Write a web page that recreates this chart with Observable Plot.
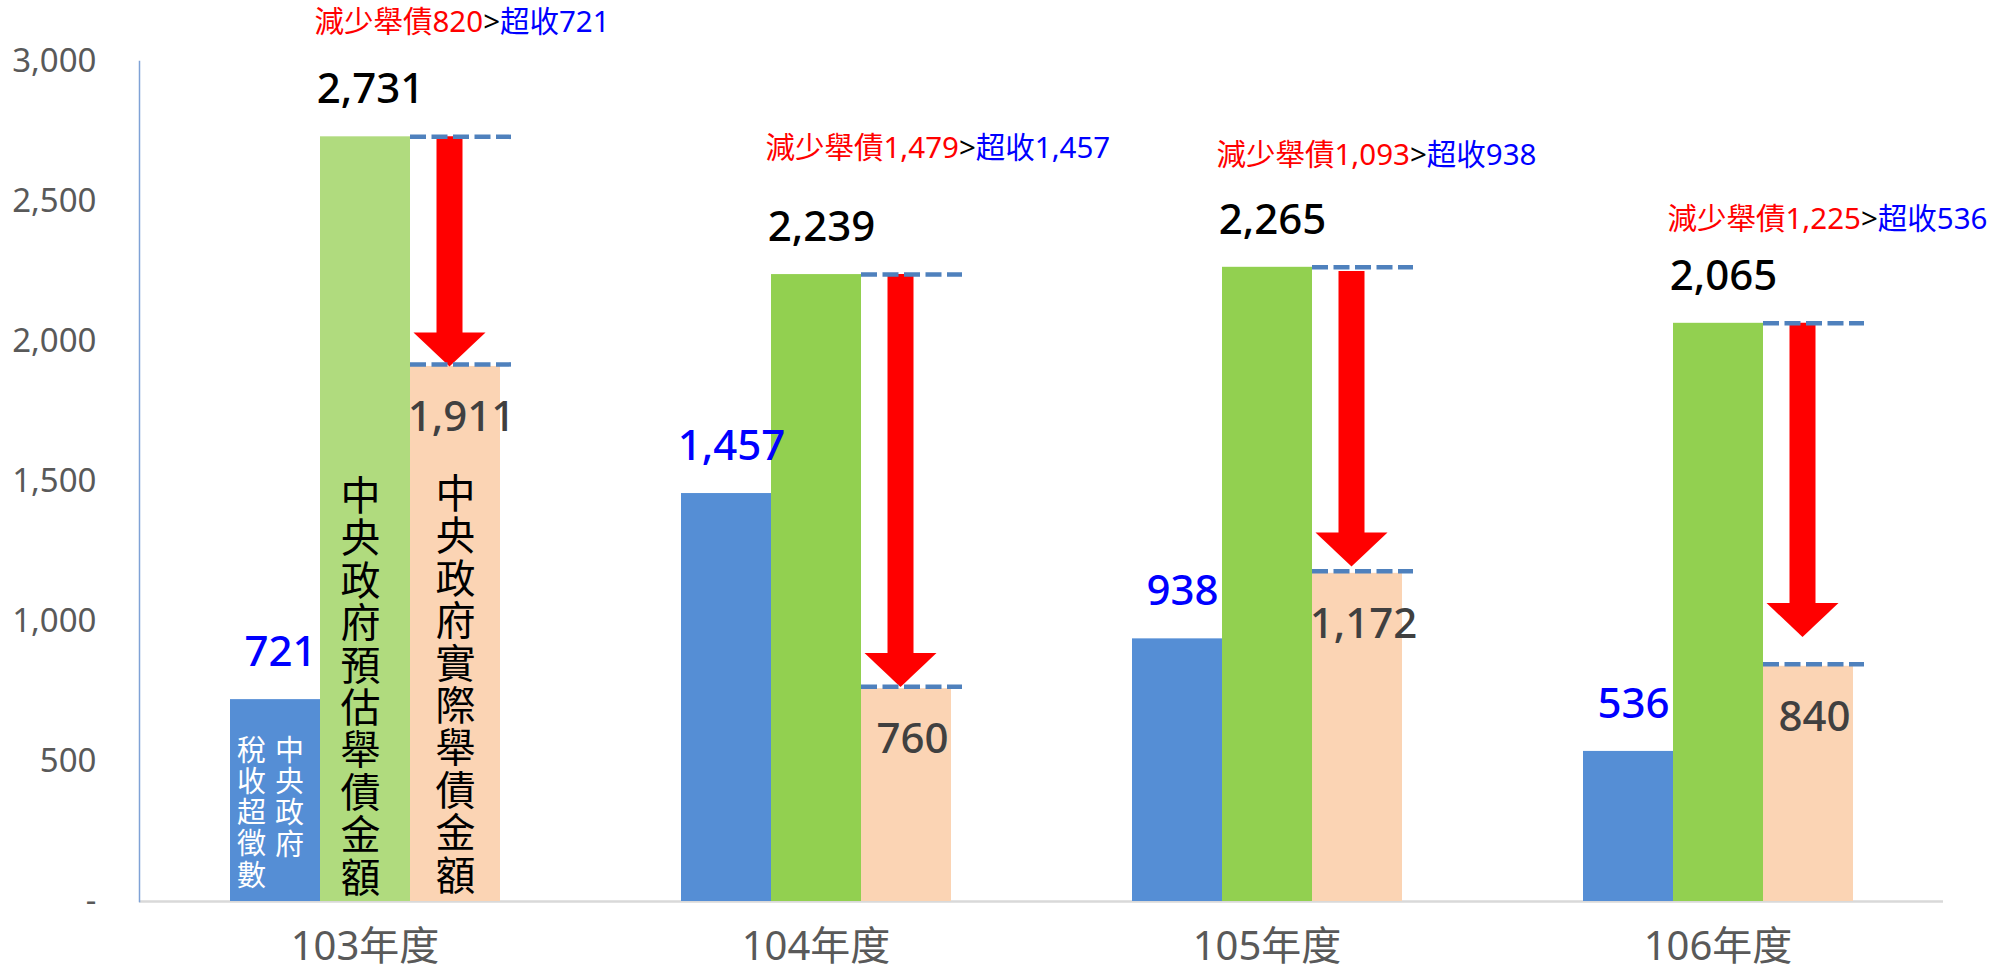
<!DOCTYPE html>
<html><head><meta charset="utf-8">
<script src="https://cdn.jsdelivr.net/npm/d3@7"></script>
<script src="https://cdn.jsdelivr.net/npm/@observablehq/plot@0.6"></script>
<style>html,body{margin:0;padding:0;background:#fff;overflow:hidden}</style>
</head><body><div id="chart"></div>
<script>
// ---- data ----
const years = ["103年度", "104年度", "105年度", "106年度"];
const seriesKeys = ["稅收超徵數", "預估舉債金額", "實際舉債金額"];
const taxExcess = [721, 1457, 938, 536];
const plannedDebt = [2731, 2239, 2265, 2065];
const actualDebt = [1911, 760, 1172, 840];
const debtReduction = [820, 1479, 1093, 1225];
const arrowStart = [2731, 2239, 2250, 2065];
const arrowEnd = [1911, 766, 1196, 945];
const yTicks = [0, 500, 1000, 1500, 2000, 2500, 3000];
const blueLabelLines = ["中央政府", "稅收超徵數"];
const greenLabel = "中央政府預估舉債金額";
const orangeLabel = "中央政府實際舉債金額";

// ---- derived tables ----
const rows = years.flatMap((year, i) => [
  {year, series: seriesKeys[0], value: taxExcess[i]},
  {year, series: seriesKeys[1], value: plannedDebt[i]},
  {year, series: seriesKeys[2], value: actualDebt[i]}
]);
const idx = years.map((_, i) => i);
const fmt = d3.format(",");

// layout: annotation heights (in axis units)
const noteLevel = [3138, 2689, 2664, 2435];

const FONT = '"Noto Sans", "Noto Sans CJK TC", sans-serif';
const colors = {"稅收超徵數": "#558ED5", "預估舉債金額": "#92D050", "實際舉債金額": "#FBD4B4"};
const vertical = s => Array.from(s).join("\n");
const arrowHead = {draw(ctx) { ctx.moveTo(0, 0); ctx.lineTo(36, -34); ctx.lineTo(-36, -34); ctx.closePath(); }};

const plot = Plot.plot({
  width: 1991, height: 973,
  marginLeft: 138, marginRight: 48, marginTop: 61, marginBottom: 72,
  style: {fontFamily: FONT, background: "white"},
  fx: {domain: years, padding: 0},
  x: {domain: seriesKeys, paddingInner: 0, paddingOuter: 1, axis: null},
  y: {domain: [0, 3000]},
  marks: [
    Plot.ruleY([0], {stroke: "#D9D9D9", strokeWidth: 2.5}),
    Plot.frame({anchor: "left", facetAnchor: "left", stroke: "#7FA2D6", strokeWidth: 1.5}),
    Plot.axisY({ticks: yTicks, tickFormat: d => d === 0 ? "-" : fmt(d), tickSize: 0, tickPadding: 43,
      fontSize: 33, fill: "#595959", label: null, fontFamily: FONT}),
    Plot.axisFx({anchor: "bottom", tickSize: 0, tickPadding: 30, fontSize: 40, fill: "#595959", label: null, fontFamily: FONT}),
    Plot.barY(rows, {fx: "year", x: "series", y: "value",
      fill: d => d.series === seriesKeys[1] && d.year === years[0] ? "#B0DB7E" : colors[d.series]}),
    // vertical labels inside the 103 bars
    Plot.text([blueLabelLines[0]], {fx: () => years[0], x: () => seriesKeys[0], y: () => 0, text: vertical,
      lineAnchor: "bottom", lineHeight: 1.07, fontSize: 29, fill: "white", dx: 14, dy: -47, fontFamily: FONT}),
    Plot.text([blueLabelLines[1]], {fx: () => years[0], x: () => seriesKeys[0], y: () => 0, text: vertical,
      lineAnchor: "bottom", lineHeight: 1.07, fontSize: 29, fill: "white", dx: -24, dy: -16, fontFamily: FONT}),
    Plot.text([greenLabel], {fx: () => years[0], x: () => seriesKeys[1], y: () => 0, text: vertical,
      lineAnchor: "bottom", lineHeight: 1.06, fontSize: 40, fill: "black", dx: -5, dy: -10, fontFamily: FONT}),
    Plot.text([orangeLabel], {fx: () => years[0], x: () => seriesKeys[2], y: () => 0, text: vertical,
      lineAnchor: "bottom", lineHeight: 1.06, fontSize: 40, fill: "black", dx: 0, dy: -12, fontFamily: FONT}),
    // red arrows
    Plot.ruleX(idx, {fx: i => years[i], x: () => seriesKeys[2], y1: i => arrowStart[i], y2: i => arrowEnd[i],
      stroke: "#FF0000", strokeWidth: 26, insetBottom: 30, dx: -6}),
    Plot.dot(idx, {fx: i => years[i], x: () => seriesKeys[2], y: i => arrowEnd[i], symbol: arrowHead,
      fill: "#FF0000", stroke: null, dx: -6}),
    // dashed reference lines
    Plot.ruleY(idx, {fx: i => years[i], x1: () => seriesKeys[2], x2: () => seriesKeys[2], y: i => plannedDebt[i],
      stroke: "#4F81BD", strokeWidth: 4.5, strokeDasharray: "16,5.5", insetRight: -11}),
    Plot.ruleY(idx, {fx: i => years[i], x1: () => seriesKeys[2], x2: () => seriesKeys[2], y: i => actualDebt[i],
      stroke: "#4F81BD", strokeWidth: 4.5, strokeDasharray: "16,5.5", insetRight: -11, dy: -2}),
    // value labels
    Plot.text(rows.filter(d => d.series === seriesKeys[0]), {fx: "year", x: "series", y: "value", text: d => fmt(d.value),
      dy: -47, dx: 5, fontSize: 42, fill: "#0000FF", fontWeight: 500, fontFamily: FONT}),
    Plot.text(rows.filter(d => d.series === seriesKeys[1]), {fx: "year", x: "series", y: "value", text: d => fmt(d.value),
      dy: -47, dx: 5, fontSize: 42, fill: "#000000", fontWeight: 500, fontFamily: FONT}),
    Plot.text(rows.filter(d => d.series === seriesKeys[2]), {fx: "year", x: "series", y: "value", text: d => fmt(d.value),
      dy: 51, dx: 6, fontSize: 42, fill: "#404040", fontWeight: 500, fontFamily: FONT}),
    // annotations
    Plot.text(idx, {fx: i => years[i], x: () => seriesKeys[1], y: i => noteLevel[i],
      text: i => `減少舉債${fmt(debtReduction[i])}>超收${fmt(taxExcess[i])}`,
      textAnchor: "start", dx: -51, fontSize: 29.5, fill: "#FF0000", fontFamily: FONT})
  ]
});

// colour the parts of each annotation
plot.querySelectorAll("text").forEach(t => {
  const s = t.textContent;
  if (s.startsWith("減少舉債") && s.includes(">") && !t.querySelector("tspan")) {
    const [a, b] = s.split(">");
    t.textContent = "";
    [[a, "#FF0000"], [">", "#000000"], [b, "#0000FF"]].forEach(([txt, c]) => {
      const ts = document.createElementNS("http://www.w3.org/2000/svg", "tspan");
      ts.setAttribute("fill", c);
      ts.textContent = txt;
      t.appendChild(ts);
    });
  }
});

document.getElementById("chart").appendChild(plot);
</script>
</body></html>
